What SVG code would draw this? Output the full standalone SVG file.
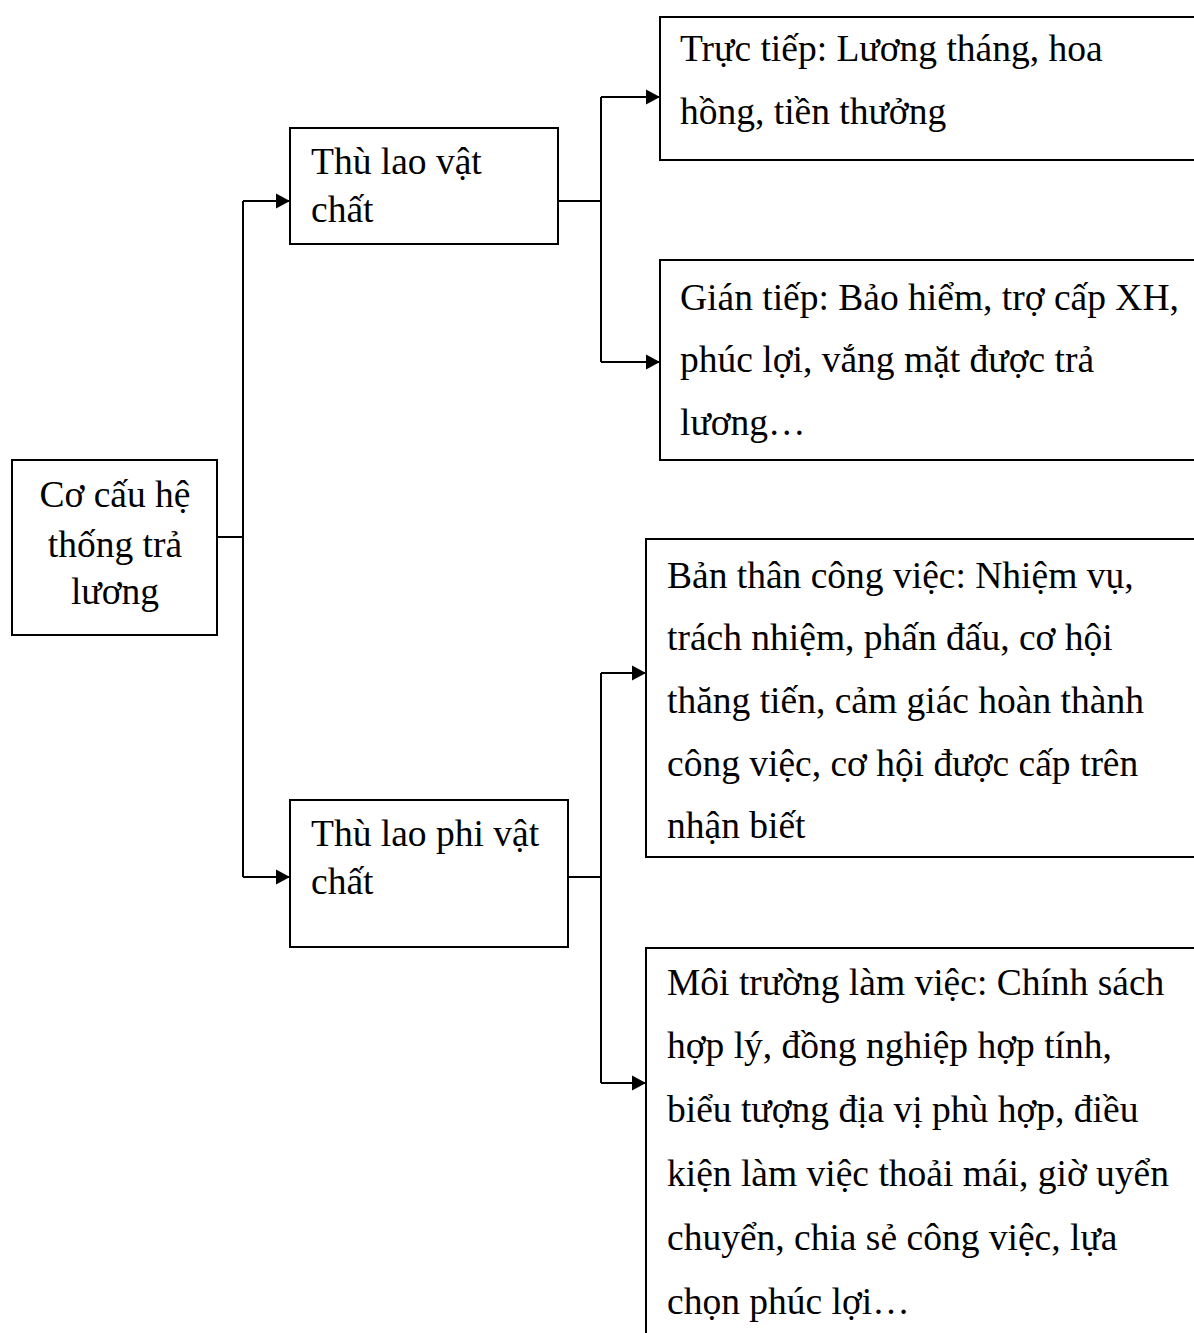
<svg xmlns="http://www.w3.org/2000/svg" width="1194" height="1333" viewBox="0 0 1194 1333">
<style>
.box{fill:#fff;stroke:#000;stroke-width:2}
.t{font-family:"Liberation Serif","Times New Roman",serif;font-size:37.5px;fill:#000}
.c{fill:none;stroke:#000;stroke-width:2}
</style>
<defs>
<marker id="ah" markerWidth="15" markerHeight="16" refX="14" refY="8" orient="auto" markerUnits="userSpaceOnUse" viewBox="0 0 15 16">
<path d="M0,0.5 L14,8 L0,15.5 z" fill="#000"/>
</marker>
</defs>
<rect width="1194" height="1333" fill="#fff"/>
<g id="connectors">
<path class="c" d="M217,537 H243"/>
<path class="c" d="M243,201 V877"/>
<path class="c" d="M243,201 H290" marker-end="url(#ah)"/>
<path class="c" d="M243,877 H290" marker-end="url(#ah)"/>
<path class="c" d="M558,201 H601"/>
<path class="c" d="M601,97 V362"/>
<path class="c" d="M601,97 H660" marker-end="url(#ah)"/>
<path class="c" d="M601,362 H660" marker-end="url(#ah)"/>
<path class="c" d="M568,877 H601"/>
<path class="c" d="M601,673 V1083"/>
<path class="c" d="M601,673 H646" marker-end="url(#ah)"/>
<path class="c" d="M601,1083 H646" marker-end="url(#ah)"/>
</g>
<g id="root">
<rect class="box" x="12" y="460" width="205" height="175"/>
<text class="t" text-anchor="middle" x="115" y="507">Cơ cấu hệ</text>
<text class="t" text-anchor="middle" x="115" y="557">thống trả</text>
<text class="t" text-anchor="middle" x="115" y="604">lương</text>
</g>
<g id="vatchat">
<rect class="box" x="290" y="128" width="268" height="116"/>
<text class="t" x="311" y="174">Thù lao vật</text>
<text class="t" x="311" y="222">chất</text>
</g>
<g id="phivatchat">
<rect class="box" x="290" y="800" width="278" height="147"/>
<text class="t" x="311" y="846">Thù lao phi vật</text>
<text class="t" x="311" y="894">chất</text>
</g>
<g id="tructiep">
<rect class="box" x="660" y="17" width="560" height="143"/>
<text class="t" x="680" y="61">Trực tiếp: Lương tháng, hoa</text>
<text class="t" x="680" y="124">hồng, tiền thưởng</text>
</g>
<g id="giantiep">
<rect class="box" x="660" y="260" width="560" height="200"/>
<text class="t" x="680" y="310">Gián tiếp: Bảo hiểm, trợ cấp XH,</text>
<text class="t" x="680" y="372">phúc lợi, vắng mặt được trả</text>
<text class="t" x="680" y="435">lương…</text>
</g>
<g id="banthan">
<rect class="box" x="646" y="539" width="574" height="318"/>
<text class="t" x="667" y="588">Bản thân công việc: Nhiệm vụ,</text>
<text class="t" x="667" y="650">trách nhiệm, phấn đấu, cơ hội</text>
<text class="t" x="667" y="713">thăng tiến, cảm giác hoàn thành</text>
<text class="t" x="667" y="776">công việc, cơ hội được cấp trên</text>
<text class="t" x="667" y="838">nhận biết</text>
</g>
<g id="moitruong">
<rect class="box" x="646" y="948" width="574" height="420"/>
<text class="t" x="667" y="995">Môi trường làm việc: Chính sách</text>
<text class="t" x="667" y="1058">hợp lý, đồng nghiệp hợp tính,</text>
<text class="t" x="667" y="1122">biểu tượng địa vị phù hợp, điều</text>
<text class="t" x="667" y="1186">kiện làm việc thoải mái, giờ uyển</text>
<text class="t" x="667" y="1250">chuyển, chia sẻ công việc, lựa</text>
<text class="t" x="667" y="1314">chọn phúc lợi…</text>
</g>
</svg>
